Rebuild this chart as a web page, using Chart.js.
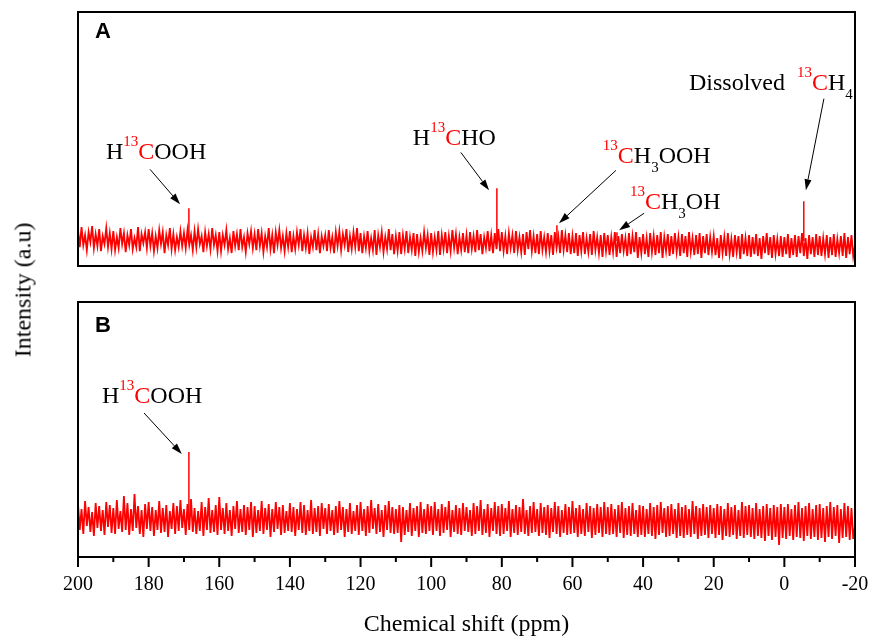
<!DOCTYPE html>
<html>
<head>
<meta charset="utf-8">
<script src="https://cdn.jsdelivr.net/npm/chart.js@4.4.1/dist/chart.umd.min.js"></script>
<style>
  html, body { margin: 0; padding: 0; background: #fff; }
  #wrap { position: relative; width: 872px; height: 636px; overflow: hidden; }
  #panelA { position: absolute; left: 0; top: 0; }
  #panelB { position: absolute; left: 0; top: 285px; }
  #ytitle {
    position: absolute; left: 23px; top: 290px;
    transform: translate(-50%, -50%) rotate(-90deg);
    font: 24px "Liberation Serif", serif; color: #000; white-space: nowrap;
  }
</style>
</head>
<body>
<div id="wrap">
  <canvas id="panelA" width="872" height="285"></canvas>
  <canvas id="panelB" width="872" height="354"></canvas>
  <div id="ytitle">Intensity (a.u)</div>
</div>
<script>
// ---- data (intensity in arbitrary units, sampled every 0.5 ppm from 200 down to -20) ----
var noiseA = [
  11,-6,14,-4,6,-9,9,-1,15,-7,7,-5,12,-10,5,-3,13,-6,8,-8,
  10,-9,4,-7,13,-3,8,-11,6,-4,12,-8,3,-6,14,-10,7,-2,9,-7,
  12,-5,8,-10,5,-7,11,-3,9,-12,6,-4,13,-8,7,-9,4,-6,10,-5,
  8,-7,11,-4,6,-9,10,-6,12,-3,5,-11,9,-5,7,-8,13,-4,6,-10,
  9,-10,6,-4,11,-8,3,-12,10,-5,7,-9,12,-6,4,-11,8,-3,10,-7,
  7,-9,12,-5,8,-11,5,-6,13,-8,6,-12,9,-4,11,-7,5,-10,8,-6,
  10,-11,5,-8,9,-4,12,-10,6,-7,8,-13,4,-6,11,-9,7,-12,5,-5,
  6,-10,11,-7,4,-12,9,-5,10,-9,7,-4,12,-11,5,-8,9,-6,13,-10,
  8,-12,5,-7,10,-10,3,-9,11,-14,6,-6,9,-11,4,-8,12,-9,7,-13,
  5,-10,9,-13,6,-8,10,-12,4,-9,8,-15,7,-11,3,-10,9,-7,6,-14,
  8,-11,4,-9,10,-14,6,-8,9,-12,5,-10,11,-7,7,-13,4,-9,8,-11,
  6,-12,9,-8,5,-11,11,-9,7,-13,4,-7,10,-10,6,-12,8,-8,12,-10,
  9,-10,5,-13,8,-7,6,-12,10,-9,4,-11,7,-14,9,-8,11,-10,5,-12,
  7,-13,10,-9,4,-11,8,-10,6,-14,9,-7,5,-12,11,-9,6,-11,8,-13,
  5,-12,8,-15,6,-10,9,-13,3,-11,7,-14,10,-9,4,-12,6,-16,8,-10,
  6,-14,4,-11,9,-16,5,-12,7,-10,3,-15,8,-13,5,-11,9,-17,4,-12,
  7,-13,3,-16,8,-11,5,-14,6,-12,9,-17,4,-10,7,-15,5,-13,8,-11,
  4,-15,7,-12,5,-16,9,-11,3,-14,6,-13,8,-17,5,-12,7,-14,4,-11,
  5,-14,3,-17,6,-12,4,-15,8,-13,2,-16,6,-11,5,-18,7,-13,3,-15,
  6,-16,4,-13,7,-15,3,-18,5,-12,8,-14,4,-17,6,-13,2,-15,5,-16,
  4,-13,7,-17,3,-14,6,-16,5,-12,8,-15,3,-18,6,-13,4,-16,7,-14,
  5,-15,3,-13,6,-17,4,-14,7,-16,2,-12,5,-15,8,-17,4,-13,6,-15,
  -4
];
var noiseB = [
  14,-12,9,-16,17,-8,11,-14,6,-18,15,-10,12,-13,8,-17,16,-9,13,-15,
  10,-16,18,-11,7,-14,22,-12,15,-17,9,-13,24,-10,12,-16,8,-19,14,-11,
  16,-13,11,-18,8,-12,17,-15,10,-14,13,-19,7,-11,15,-16,12,-13,18,-10,
  9,-17,14,-12,19,-14,10,-16,7,-13,16,-18,11,-12,20,-15,8,-14,13,-17,
  21,-12,10,-16,15,-13,8,-18,12,-11,17,-15,9,-14,13,-17,11,-12,16,-19,
  12,-15,8,-13,17,-16,10,-12,14,-19,9,-14,16,-11,11,-17,13,-15,7,-13,
  15,-14,11,-18,9,-12,16,-15,13,-17,8,-13,18,-16,10,-14,12,-18,15,-11,
  10,-16,14,-13,8,-17,12,-15,17,-12,11,-19,9,-14,15,-16,7,-13,13,-17,
  16,-13,9,-18,12,-15,18,-11,10,-16,14,-14,8,-19,13,-12,17,-15,11,-16,
  9,-15,13,-24,11,-17,8,-14,15,-18,10,-13,12,-19,16,-15,9,-16,14,-13,
  12,-17,16,-13,9,-18,14,-15,11,-12,17,-19,8,-14,13,-16,10,-17,15,-13,
  11,-14,8,-18,15,-16,12,-13,18,-17,9,-15,14,-19,10,-13,16,-16,12,-18,
  14,-16,10,-13,17,-19,9,-15,13,-17,11,-14,19,-16,8,-18,12,-15,16,-14,
  9,-18,15,-15,11,-17,13,-20,10,-14,16,-16,12,-19,8,-15,14,-17,11,-16,
  17,-15,10,-19,13,-16,9,-18,15,-14,12,-20,10,-17,14,-15,11,-19,16,-16,
  11,-17,14,-16,9,-19,13,-15,16,-20,10,-17,12,-18,15,-16,8,-19,13,-17,
  12,-19,9,-16,15,-18,11,-21,13,-17,16,-15,10,-19,12,-18,14,-16,9,-20,
  15,-18,11,-20,13,-17,9,-19,17,-16,12,-21,10,-18,14,-17,11,-20,13,-16,
  10,-20,14,-17,12,-22,9,-18,15,-19,11,-17,13,-21,8,-18,16,-20,12,-17,
  13,-19,10,-21,15,-18,9,-20,12,-23,14,-18,10,-22,13,-19,11,-27,14,-20,
  11,-21,14,-18,9,-22,13,-19,16,-20,10,-23,12,-18,15,-21,9,-19,13,-22,
  14,-20,10,-24,12,-19,16,-21,11,-18,13,-25,9,-20,15,-19,12,-22,10,-21,
  -8
];

// resonance lines (ppm, height above baseline)
var peakShiftA = [168.6, 81.4, 64.4, 47.4, -5.5];
var peakHeightA = [33, 53, 16, 9, 40];
var peakShiftB = [168.6];
var peakHeightB = [66];

// x axis ticks (ppm)
var tickValues = [200, 190, 180, 170, 160, 150, 140, 130, 120, 110, 100, 90, 80, 70, 60, 50, 40, 30, 20, 10, 0, -10, -20];
var tickLabels = ['200', '', '180', '', '160', '', '140', '', '120', '', '100', '', '80', '', '60', '', '40', '', '20', '', '0', '', '-20'];

var RED = '#ff0000';
Chart.defaults.font.family = '"Liberation Serif", serif';
Chart.defaults.color = '#000';

function spectrum(noise) {
  var step = 220 / (noise.length - 1);
  return noise.map(function(v, i) { return {x: 200 - i * step, y: v}; });
}
function sticks(shifts, heights) {
  var pts = [];
  shifts.forEach(function(s, i) {
    pts.push({x: s, y: 0}, {x: s, y: heights[i]}, {x: s, y: null});
  });
  return pts;
}

// frame, panel letter, labels with arrows
var decor = {
  id: 'decor',
  afterDraw: function(chart, args, opts) {
    var ctx = chart.ctx, a = chart.chartArea;
    var sx = chart.scales.x, sy = chart.scales.y;
    ctx.save();
    ctx.strokeStyle = '#000';
    ctx.lineWidth = 2;
    ctx.strokeRect(a.left, a.top, a.right - a.left, a.bottom - a.top);

    ctx.font = 'bold 22px "Liberation Sans", Arial, sans-serif';
    ctx.fillStyle = '#000';
    ctx.textAlign = 'left';
    ctx.textBaseline = 'alphabetic';
    ctx.fillText(opts.letter, a.left + 17, a.top + opts.letterDy);

    (opts.labels || []).forEach(function(lb) {
      var x = sx.getPixelForValue(lb.at[0]), y = sy.getPixelForValue(lb.at[1]);
      lb.parts.forEach(function(p) {
        var small = p[2] === 'sup' || p[2] === 'sub';
        ctx.font = (small ? '15px' : '24px') + ' "Liberation Serif", serif';
        ctx.fillStyle = p[1] === 'r' ? RED : '#000';
        var dy = p[2] === 'sup' ? -13 : (p[2] === 'sub' ? 9 : 0);
        ctx.fillText(p[0], x, y + dy);
        x += ctx.measureText(p[0]).width;
      });
      var x1 = sx.getPixelForValue(lb.from[0]), y1 = sy.getPixelForValue(lb.from[1]);
      var x2 = sx.getPixelForValue(lb.to[0]), y2 = sy.getPixelForValue(lb.to[1]);
      var ang = Math.atan2(y2 - y1, x2 - x1), L = 11, W = 3.5;
      ctx.strokeStyle = '#000';
      ctx.lineWidth = 1;
      ctx.beginPath();
      ctx.moveTo(x1, y1);
      ctx.lineTo(x2 - L * Math.cos(ang), y2 - L * Math.sin(ang));
      ctx.stroke();
      ctx.fillStyle = '#000';
      ctx.beginPath();
      ctx.moveTo(x2, y2);
      ctx.lineTo(x2 - L * Math.cos(ang) + W * Math.sin(ang), y2 - L * Math.sin(ang) - W * Math.cos(ang));
      ctx.lineTo(x2 - L * Math.cos(ang) - W * Math.sin(ang), y2 - L * Math.sin(ang) + W * Math.cos(ang));
      ctx.closePath();
      ctx.fill();
    });

    if (opts.ticks) {
      ctx.strokeStyle = '#000';
      ctx.lineWidth = 2;
      sx.ticks.forEach(function(t, i) {
        var px = sx.getPixelForValue(t.value);
        var len = tickLabels[i] ? 10 : 5;
        ctx.beginPath();
        ctx.moveTo(px, a.bottom);
        ctx.lineTo(px, a.bottom + len);
        ctx.stroke();
      });
    }
    ctx.restore();
  }
};

function lineSet(data, w) {
  return {data: data, borderColor: RED, borderWidth: w, pointRadius: 0, tension: 0, spanGaps: false};
}

// ---- panel A ----
new Chart(document.getElementById('panelA'), {
  type: 'line',
  data: {datasets: [lineSet(sticks(peakShiftA, peakHeightA), 1.5), lineSet(spectrum(noiseA), 1.8)]},
  options: {
    responsive: false, animation: false, devicePixelRatio: 1,
    layout: {padding: {left: 78, right: 17, top: 12, bottom: 19}},
    scales: {
      x: {type: 'linear', min: -20, max: 200, reverse: true, display: false},
      y: {min: -25, max: 230, display: false}
    },
    plugins: {
      legend: {display: false}, tooltip: {enabled: false},
      decor: {
        letter: 'A', letterDy: 26,
        labels: [
          {at: [192.1, 82], parts: [['H', 'k'], ['13', 'r', 'sup'], ['C', 'r'], ['OOH', 'k']], from: [179.6, 72], to: [171.1, 37]},
          {at: [105.2, 96], parts: [['H', 'k'], ['13', 'r', 'sup'], ['C', 'r'], ['HO', 'k']], from: [91.6, 89], to: [83.6, 51]},
          {at: [51.4, 78], parts: [['13', 'r', 'sup'], ['C', 'r'], ['H', 'k'], ['3', 'k', 'sub'], ['OOH', 'k']], from: [47.7, 71], to: [63.8, 18]},
          {at: [43.7, 32], parts: [['13', 'r', 'sup'], ['C', 'r'], ['H', 'k'], ['3', 'k', 'sub'], ['OH', 'k']], from: [39.7, 28], to: [46.8, 11]},
          {at: [27.0, 152], parts: [['Dissolved  ', 'k'], ['13', 'r', 'sup'], ['C', 'r'], ['H', 'k'], ['4', 'k', 'sub']], from: [-11.2, 143], to: [-6.1, 51]}
        ]
      }
    }
  },
  plugins: [decor]
});

// ---- panel B ----
new Chart(document.getElementById('panelB'), {
  type: 'line',
  data: {datasets: [lineSet(sticks(peakShiftB, peakHeightB), 1.5), lineSet(spectrum(noiseB), 1.8)]},
  options: {
    responsive: false, animation: false, devicePixelRatio: 1,
    layout: {padding: {left: 78, right: 17, top: 17, bottom: 0}},
    scales: {
      x: {
        type: 'linear', min: -20, max: 200, reverse: true,
        // tick marks are drawn by the decor plugin; tickLength only offsets the labels
        grid: {display: false, drawTicks: true, tickLength: 16},
        border: {display: false},
        afterBuildTicks: function(s) { s.ticks = tickValues.map(function(v) { return {value: v}; }); },
        afterFit: function(s) { s.height = 82; },
        ticks: {
          autoSkip: false, maxRotation: 0, padding: 0,
          font: {size: 20}, color: '#000',
          callback: function(v, i) { return tickLabels[i]; }
        },
        title: {display: true, text: 'Chemical shift (ppm)', font: {size: 24}, color: '#000', padding: 0}
      },
      y: {min: -39, max: 216, display: false}
    },
    plugins: {
      legend: {display: false}, tooltip: {enabled: false},
      decor: {
        letter: 'B', letterDy: 30, ticks: true,
        labels: [
          {at: [193.2, 115], parts: [['H', 'k'], ['13', 'r', 'sup'], ['C', 'r'], ['OOH', 'k']], from: [181.3, 105], to: [170.6, 64]}
        ]
      }
    }
  },
  plugins: [decor]
});
</script>
</body>
</html>
